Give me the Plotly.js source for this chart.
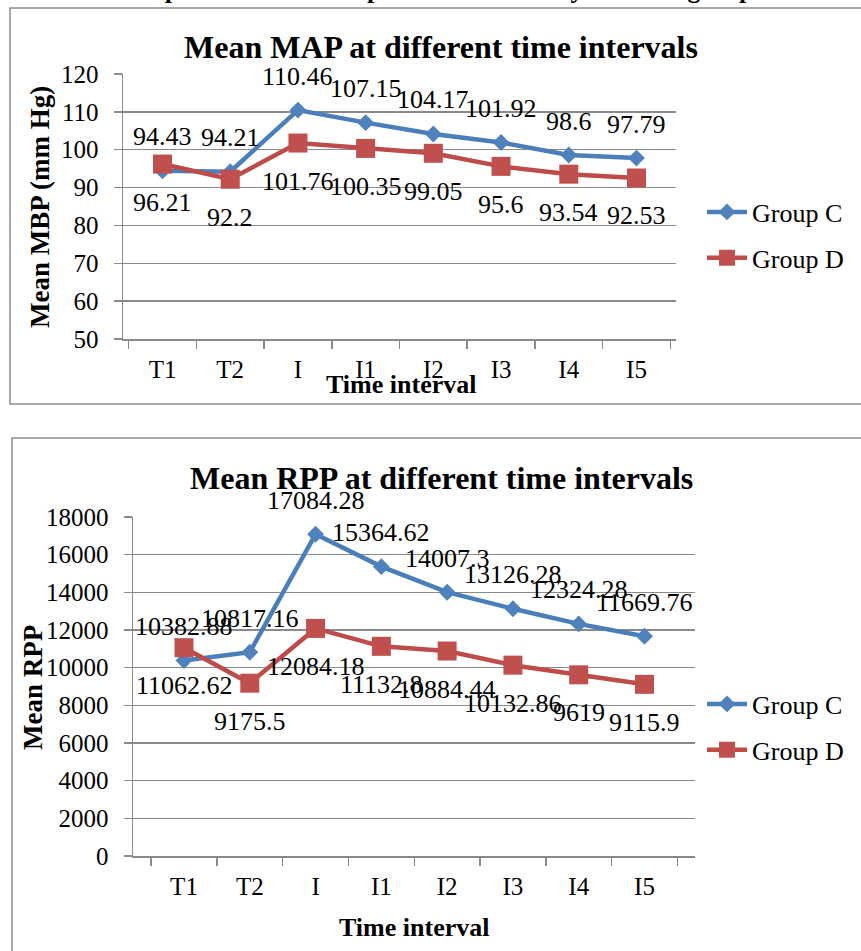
<!DOCTYPE html>
<html>
<head>
<meta charset="utf-8">
<script src="https://cdn.plot.ly/plotly-3.0.1.min.js"></script>
<style>
  html, body { margin: 0; padding: 0; background: #ffffff; overflow: hidden; }
  #chart { width: 861px; height: 951px; }
</style>
</head>
<body>
<div id="chart"></div>
<script>
// ---- data ----
const categories = ['T1', 'T2', 'I', 'I1', 'I2', 'I3', 'I4', 'I5'];
const seriesNames = ['Group C', 'Group D'];
const mapGroupC = [94.43, 94.21, 110.46, 107.15, 104.17, 101.92, 98.6, 97.79];
const mapGroupD = [96.21, 92.2, 101.76, 100.35, 99.05, 95.6, 93.54, 92.53];
const rppGroupC = [10382.88, 10817.16, 17084.28, 15364.62, 14007.3, 13126.28, 12324.28, 11669.76];
const rppGroupD = [11062.62, 9175.5, 12084.18, 11132.8, 10884.44, 10132.86, 9619, 9115.9];
const mapYTicks = [50, 60, 70, 80, 90, 100, 110, 120];
const rppYTicks = [0, 2000, 4000, 6000, 8000, 10000, 12000, 14000, 16000, 18000];
const captionText = 'Graph 1: Mean blood pressure variability between groups';
const mapTitle = 'Mean MAP at different time intervals';
const rppTitle = 'Mean RPP at different time intervals';
const mapYTitle = 'Mean MBP (mm Hg)';
const rppYTitle = 'Mean RPP';
const xTitle = 'Time interval';

// ---- layout helpers ----
const W = 861, H = 951;
const px = v => v / W;
const py = v => 1 - v / H;
const FONT = 'Liberation Serif, Times New Roman, serif';
const BLUE_LINE = '#4A7EBB', BLUE_MK = '#4F81BD';
const RED_LINE = '#BE4B48', RED_MK = '#C0504D';
const GRID = '#8a8a8a';

function lineTrace(y, name, xa, ya, legend, isC) {
  return {
    type: 'scatter', mode: 'lines+markers',
    x: categories, y: y, name: name,
    xaxis: xa, yaxis: ya, legend: legend, legendgroup: name + legend,
    line: { color: isC ? BLUE_LINE : RED_LINE, width: 4.5 },
    marker: isC ? { symbol: 'diamond', size: 13, color: BLUE_MK }
                : { symbol: 'square', size: 19, color: RED_MK },
    cliponaxis: false
  };
}

const data = [
  lineTrace(mapGroupC, seriesNames[0], 'x', 'y', 'legend', true),
  lineTrace(mapGroupD, seriesNames[1], 'x', 'y', 'legend', false),
  lineTrace(rppGroupC, seriesNames[0], 'x2', 'y2', 'legend2', true),
  lineTrace(rppGroupD, seriesNames[1], 'x2', 'y2', 'legend2', false)
];

function valueLabels(vals, xref, yref, shift) {
  return vals.map((v, i) => ({
    x: categories[i], y: v, xref: xref, yref: yref,
    text: String(v), showarrow: false, yshift: shift,
    font: { family: FONT, size: 26, color: '#000' }
  }));
}

function textAnn(text, x, y, size, bold, angle) {
  return {
    xref: 'paper', yref: 'paper', x: px(x), y: py(y),
    xanchor: 'center', yanchor: 'middle', showarrow: false,
    text: bold ? '<b>' + text + '</b>' : text,
    textangle: angle || 0,
    font: { family: FONT, size: size, color: '#000' }
  };
}

const xAxisBase = {
  type: 'category', showgrid: false, showline: true, linecolor: GRID, linewidth: 1.5,
  ticks: 'outside', tickson: 'boundaries', ticklen: 8, tickcolor: GRID, tickwidth: 1.5,
  tickfont: { family: FONT, size: 25, color: '#000' }, ticklabelstandoff: 7,
  zeroline: false, fixedrange: true
};
const yAxisBase = {
  showgrid: true, gridcolor: GRID, gridwidth: 1.5, showline: true, linecolor: GRID, linewidth: 1.5,
  ticks: 'outside', ticklen: 8, tickcolor: GRID, tickwidth: 1.5,
  tickfont: { family: FONT, size: 25, color: '#000' }, ticklabelstandoff: 10,
  zeroline: false, tickformat: 'd', fixedrange: true
};

const legendBase = {
  xanchor: 'left', yanchor: 'middle',
  font: { family: FONT, size: 26, color: '#000' }, tracegroupgap: 9,
  bgcolor: 'rgba(0,0,0,0)', traceorder: 'grouped', itemwidth: 40
};

const layout = {
  width: W, height: H,
  margin: { l: 0, r: 0, t: 0, b: 0 },
  paper_bgcolor: '#ffffff', plot_bgcolor: 'rgba(0,0,0,0)',
  font: { family: FONT, color: '#000' },
  showlegend: true,
  xaxis: Object.assign({}, xAxisBase, { domain: [px(123), px(676)], anchor: 'y' }),
  yaxis: Object.assign({}, yAxisBase, { domain: [py(339), py(74)], range: [50, 120],
    tickvals: mapYTicks, anchor: 'x' }),
  xaxis2: Object.assign({}, xAxisBase, { domain: [px(133), px(695)], anchor: 'y2' }),
  yaxis2: Object.assign({}, yAxisBase, { domain: [py(856), py(517)], range: [0, 18000],
    tickvals: rppYTicks, anchor: 'x2' }),
  legend: Object.assign({}, legendBase, { x: px(702), y: py(235) }),
  legend2: Object.assign({}, legendBase, { x: px(702), y: py(727) }),
  shapes: [
    { type: 'rect', xref: 'paper', yref: 'paper', x0: px(10), x1: 1.02, y0: py(404), y1: py(8),
      line: { color: '#8c8c8c', width: 1.5 }, fillcolor: 'rgba(0,0,0,0)', layer: 'below' },
    { type: 'rect', xref: 'paper', yref: 'paper', x0: px(12), x1: 1.02, y0: -0.02, y1: py(438),
      line: { color: '#8c8c8c', width: 1.5 }, fillcolor: 'rgba(0,0,0,0)', layer: 'below' }
  ],
  annotations: [].concat(
    [
      Object.assign(textAnn(captionText, 442, 0, 26, true), { yanchor: 'bottom', y: py(6) }),
      textAnn(mapTitle, 441, 47, 32, true),
      textAnn(rppTitle, 441, 478, 32, true),
      textAnn(mapYTitle, 40, 207, 27, true, -90),
      textAnn(rppYTitle, 33, 688, 27, true, -90),
      textAnn(xTitle, 401, 385, 26, true),
      textAnn(xTitle, 414, 927, 26, true)
    ],
    valueLabels(mapGroupC, 'x', 'y', 34),
    valueLabels(mapGroupD, 'x', 'y', -38),
    valueLabels(rppGroupC, 'x2', 'y2', 34),
    valueLabels(rppGroupD, 'x2', 'y2', -38)
  )
};

Plotly.newPlot('chart', data, layout, { staticPlot: true, displayModeBar: false });
</script>
</body>
</html>
